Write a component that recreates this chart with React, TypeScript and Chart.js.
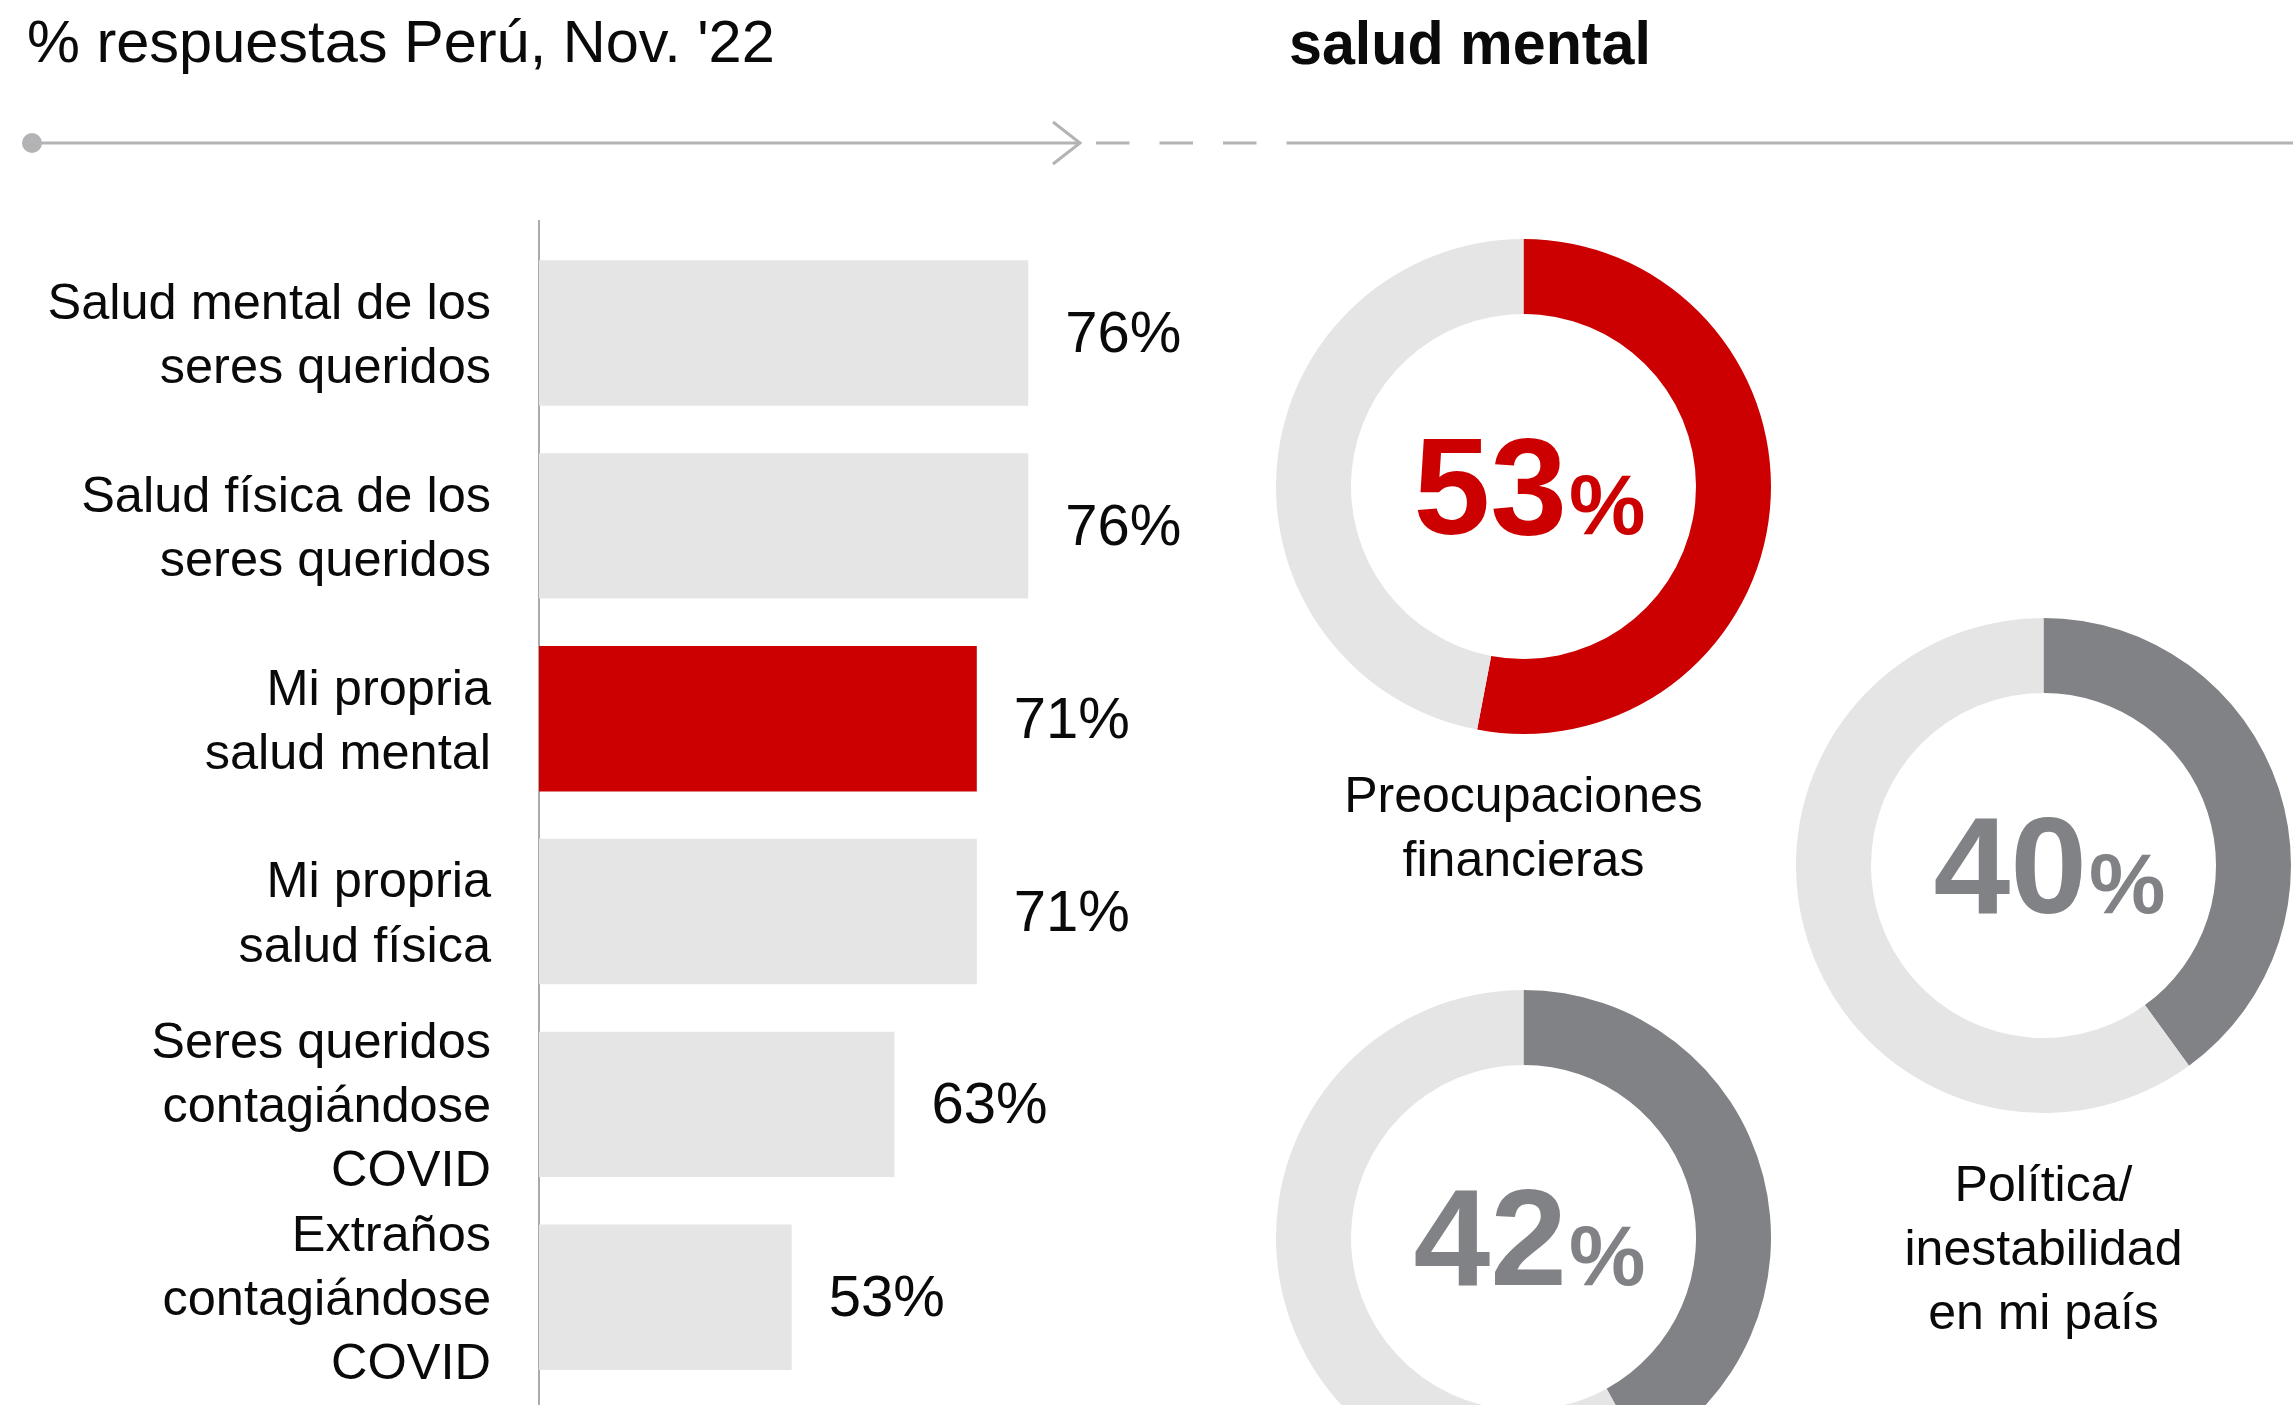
import React, { useEffect, useRef } from 'react';
import { Chart, registerables } from 'chart.js';

Chart.register(...registerables);

const FONT = "'Liberation Sans', Arial, Helvetica, sans-serif";
const RED = '#cc0000';
const LIGHT = '#e5e5e5';
const DARK = '#818286';
const TEXT = '#0a0a0a';
const RULE = '#b3b3b6';

// ---- data ----
const headerLeft = "% respuestas Perú, Nov. '22";
const headerRight = 'salud mental';

const barCategories: string[][] = [
  ['Salud mental de los', 'seres queridos'],
  ['Salud física de los', 'seres queridos'],
  ['Mi propria', 'salud mental'],
  ['Mi propria', 'salud física'],
  ['Seres queridos', 'contagiándose', 'COVID'],
  ['Extraños', 'contagiándose', 'COVID'],
];
const barValues: number[] = [76, 76, 71, 71, 63, 53];
const barHighlightIndex = 2;

const donutLabels: string[][] = [
  ['Preocupaciones', 'financieras'],
  ['Política/', 'inestabilidad', 'en mi país'],
  [],
];
const donutValues: number[] = [53, 40, 42];
const donutAccent: string[] = [RED, DARK, DARK];

// ---- bar chart ----
function BarChart() {
  const ref = useRef<HTMLCanvasElement | null>(null);
  useEffect(() => {
    if (!ref.current) return;
    const valueLabels = {
      id: 'valueLabels',
      afterDatasetsDraw(chart: any) {
        const { ctx } = chart;
        const meta = chart.getDatasetMeta(0);
        ctx.save();
        ctx.font = `58px ${FONT}`;
        ctx.fillStyle = TEXT;
        ctx.textAlign = 'left';
        ctx.textBaseline = 'middle';
        meta.data.forEach((el: any, i: number) => {
          ctx.fillText(`${barValues[i]}%`, el.x + 37, el.y + 3);
        });
        ctx.restore();
      },
    };
    const chart = new Chart(ref.current, {
      type: 'bar',
      data: {
        datasets: [
          {
            data: barValues.map((v, i) => ({ x: v, y: i })),
            backgroundColor: barValues.map((_, i) => (i === barHighlightIndex ? RED : LIGHT)),
            borderWidth: 0,
            barPercentage: 0.754,
            categoryPercentage: 1,
          },
        ],
      },
      options: {
        indexAxis: 'y',
        responsive: false,
        animation: false,
        events: [],
        layout: { padding: { top: 221, bottom: 40, left: 0, right: 0 } },
        plugins: { legend: { display: false }, tooltip: { enabled: false }, title: { display: false } },
        scales: {
          x: { type: 'linear', display: false, min: 28.44, max: 93.67, beginAtZero: false },
          y: {
            type: 'linear',
            reverse: true,
            min: -0.581,
            max: 6.98,
            offset: false,
            afterFit: (s: any) => {
              s.width = 539;
              s.paddingTop = 0;
              s.paddingBottom = 0;
            },
            grid: { display: false, drawTicks: false, tickLength: 0, offset: false },
            border: { display: true, color: '#ababab', width: 2 },
            ticks: {
              stepSize: 1,
              includeBounds: false,
              autoSkip: false,
              padding: 48,
              labelOffset: 4,
              color: TEXT,
              font: { family: FONT, size: 50.5, lineHeight: 1.27 },
              callback: (v: any) => barCategories[v as number] ?? '',
            },
          },
        },
      } as any,
      plugins: [valueLabels],
    });
    return () => chart.destroy();
  }, []);
  return (
    <canvas
      ref={ref}
      width={1210}
      height={1719}
      style={{ position: 'absolute', left: 0, top: 0, width: 1210, height: 1719 }}
    />
  );
}

// ---- doughnuts ----
function Donut(props: { index: number; left: number; top: number; padTop: number }) {
  const { index, left, top, padTop } = props;
  const ref = useRef<HTMLCanvasElement | null>(null);
  const label = donutLabels[index];
  const size = 495;
  const height = size + (label.length ? padTop + label.length * 64 : 0);
  useEffect(() => {
    if (!ref.current) return;
    const value = donutValues[index];
    const color = donutAccent[index];
    const centerText = {
      id: 'centerText',
      afterDatasetsDraw(chart: any) {
        const arc = chart.getDatasetMeta(0).data[0];
        const { x, y } = arc;
        const ctx = chart.ctx;
        ctx.save();
        const num = String(value);
        ctx.font = `bold 138px ${FONT}`;
        const w1 = ctx.measureText(num).width;
        ctx.font = `bold 86px ${FONT}`;
        const w2 = ctx.measureText('%').width;
        const start = x + 5 - (w1 + w2) / 2;
        ctx.fillStyle = color;
        ctx.textAlign = 'left';
        ctx.textBaseline = 'alphabetic';
        ctx.font = `bold 138px ${FONT}`;
        ctx.fillText(num, start, y + 47);
        ctx.font = `bold 86px ${FONT}`;
        ctx.fillText('%', start + w1 + 2, y + 47);
        ctx.restore();
      },
    };
    const chart = new Chart(ref.current, {
      type: 'doughnut',
      data: {
        labels: ['sí', 'resto'],
        datasets: [
          {
            data: [value, 100 - value],
            backgroundColor: [color, LIGHT],
            borderWidth: 0,
          },
        ],
      },
      options: {
        responsive: false,
        animation: false,
        events: [],
        cutout: '69.7%',
        rotation: 0,
        layout: { padding: 0 },
        plugins: {
          legend: { display: false },
          tooltip: { enabled: false },
          title: {
            display: label.length > 0,
            position: 'bottom',
            text: label,
            color: TEXT,
            font: { family: FONT, size: 50, weight: 'normal', lineHeight: '64px' },
            padding: { top: padTop, bottom: 0 },
          },
        },
      } as any,
      plugins: [centerText],
    });
    return () => chart.destroy();
  }, []);
  return (
    <canvas
      ref={ref}
      width={size}
      height={height}
      style={{ position: 'absolute', left, top, width: size, height }}
    />
  );
}

// ---- header ----
function Header() {
  return (
    <>
      <svg width={2293} height={200} style={{ position: 'absolute', left: 0, top: 0 }}>
        <circle cx={32} cy={143} r={10} fill={RULE} />
        <line x1={32} y1={143} x2={1079} y2={143} stroke={RULE} strokeWidth={3} />
        <polyline points="1053,122 1080,143 1053,164" fill="none" stroke={RULE} strokeWidth={3} />
        <line
          x1={1096}
          y1={143}
          x2={1287}
          y2={143}
          stroke={RULE}
          strokeWidth={3}
          strokeDasharray="33.5 30"
        />
        <line x1={1287} y1={143} x2={2293} y2={143} stroke={RULE} strokeWidth={3} />
      </svg>
      <div
        style={{
          position: 'absolute',
          left: 27,
          top: 12,
          fontFamily: FONT,
          fontSize: 59.5,
          lineHeight: '60px',
          color: TEXT,
          whiteSpace: 'nowrap',
        }}
      >
        {headerLeft}
      </div>
      <div
        style={{
          position: 'absolute',
          left: 1289,
          top: 12,
          fontFamily: FONT,
          fontSize: 62,
          fontWeight: 'bold',
          lineHeight: '62px',
          color: TEXT,
          whiteSpace: 'nowrap',
          transform: 'scaleX(0.955)',
          transformOrigin: 'left center',
        }}
      >
        {headerRight}
      </div>
    </>
  );
}

export default function App() {
  return (
    <div
      style={{
        position: 'absolute',
        left: 0,
        top: 0,
        width: 2293,
        height: 1405,
        overflow: 'hidden',
        background: '#ffffff',
      }}
    >
      <Header />
      <BarChart />
      <Donut index={0} left={1276} top={239} padTop={32} />
      <Donut index={1} left={1796} top={618} padTop={42} />
      <Donut index={2} left={1276} top={990} padTop={0} />
    </div>
  );
}
